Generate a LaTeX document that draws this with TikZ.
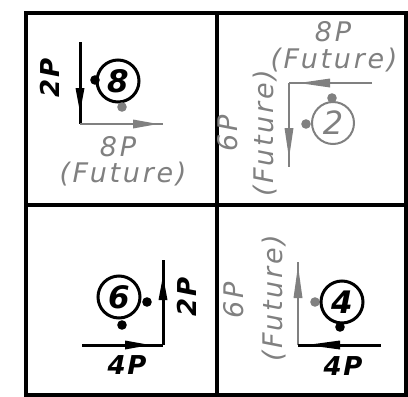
\documentclass[tikz,border=0pt]{standalone}
\usepackage{fontspec}
\newfontfamily\cadfont[LetterSpace=10]{DejaVu Sans}
\newfontfamily\cadbold[LetterSpace=6]{DejaVu Sans}
\definecolor{cadgray}{RGB}{128,128,128}
\tikzset{
  frameline/.style={line width=4pt, line cap=rect},
  blkline/.style={line width=3pt, black},
  grayline/.style={line width=2pt, cadgray},
  blkcirc/.style={circle, draw=black, line width=3pt, minimum size=42pt, inner sep=0pt, font=\cadbold\bfseries\itshape\fontsize{31}{31}\selectfont},
  graycirc/.style={circle, draw=cadgray, line width=2pt, minimum size=42pt, inner sep=0pt, text=cadgray, font=\cadfont\itshape\fontsize{32}{32}\selectfont},
  blklabel/.style={inner sep=0pt, font=\cadbold\bfseries\itshape\fontsize{26}{26}\selectfont},
  graylabel/.style={inner sep=0pt, text depth=1pt, text height=19pt, text=cadgray, font=\cadfont\itshape\fontsize{27}{27}\selectfont},
}
\begin{document}
\begin{tikzpicture}[x=1pt,y=-1pt]
\useasboundingbox (0,0) rectangle (408,397);
% frame
\draw[frameline] (26,13) rectangle (406,395);
\draw[frameline] (217,13) -- (217,395);
\draw[frameline] (26,205) -- (406,205);

% ---------- Q1 ----------
\node[blklabel, rotate=90] (q1a) at (50,78) {2P};
\draw[blkline] (80,42) -- (80,124);
\fill (75.5,88) -- (84.5,88) -- (80,112) -- cycle;
\fill (95,80) circle (4.8);
\node[blkcirc] (c8) at (118,81) {8};
\fill[cadgray] (122,107) circle (4.8);
\draw[grayline] (80,124) -- (163,124);
\fill[cadgray] (133,119.5) -- (133,128.5) -- (158,124) -- cycle;
\node[graylabel] (q1b) at (118,147) {8P};
\node[graylabel] (q1c) at (123,173) {(Future)};

% ---------- Q2 ----------
\node[graylabel] (q2a) at (333,32) {8P};
\node[graylabel] (q2b) at (334,59) {(Future)};
\draw[grayline] (372,83) -- (289,83);
\fill[cadgray] (330,78.5) -- (330,87.5) -- (299,83) -- cycle;
\draw[grayline] (289,83) -- (289,167);
\fill[cadgray] (284.5,128) -- (293.5,128) -- (289,158) -- cycle;
\node[graycirc] (c2) at (333,123) {2};
\fill[cadgray] (332,98) circle (4.8);
\fill[cadgray] (306,124) circle (4.8);
\node[graylabel, rotate=90] (q2c) at (228,133) {6P};
\node[graylabel, rotate=90] (q2d) at (264,133) {(Future)};

% ---------- Q3 ----------
\node[blkcirc] (c6) at (119,297) {6};
\fill (147,302) circle (4.8);
\fill (122,325) circle (4.8);
\draw[blkline] (163,260) -- (163,345);
\fill (158.5,300) -- (167.5,300) -- (163,276) -- cycle;
\draw[blkline] (82,345) -- (163,345);
\fill (125,340.5) -- (125,349.5) -- (150,345) -- cycle;
\node[blklabel, rotate=90] (q3a) at (187,297) {2P};
\node[blklabel] (q3b) at (127,365) {4P};

% ---------- Q4 ----------
\node[graylabel, rotate=90] (q4a) at (234,300) {6P};
\node[graylabel, rotate=90] (q4b) at (273,298) {(Future)};
\draw[grayline] (298,262) -- (298,345);
\fill[cadgray] (293.5,298) -- (302.5,298) -- (298,266) -- cycle;
\draw[blkline] (298,345) -- (381,345);
\fill (340,340.5) -- (340,349.5) -- (307,345) -- cycle;
\fill[cadgray] (315,302) circle (4.8);
\node[blkcirc] (c4) at (342,302) {4};
\fill (340,327) circle (4.8);
\node[blklabel] (q4c) at (343,366) {4P};
\end{tikzpicture}
\end{document}
